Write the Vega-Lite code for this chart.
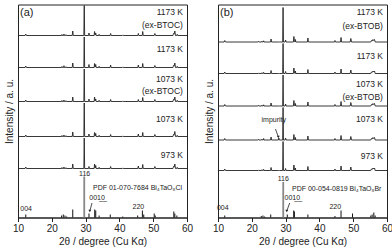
{
"$schema":"https://vega.github.io/schema/vega-lite/v6.json",
"padding":{"left":3,"top":2.5,"right":0,"bottom":0},
"spacing":31,
"bounds":"flush",
"config":{
 "view":{"stroke":"#222","strokeWidth":1},
 "font":"Liberation Sans",
 "axis":{"grid":false,"titleFontWeight":"normal","titleColor":"#222","labelColor":"#222","domainColor":"#222","tickColor":"#222","titleFontSize":10,"labelFontSize":10,"titleFont":"Liberation Sans","labelFont":"Liberation Sans"},
 "axisX":{"tickSize":4,"labelPadding":2,"titlePadding":3,"labelFlush":false},
 "axisY":{"labels":false,"ticks":false,"domain":false,"titlePadding":4},
 "text":{"font":"Liberation Sans","color":"#222"}
},
"datasets":{
 "ra":[{"y":181},{"y":149},{"y":115},{"y":80},{"y":48}],
 "rb":[{"y":174.5},{"y":142.8},{"y":110.5},{"y":76.5},{"y":46.2}],
 "pa":[
  {"t":10,"a":182,"b":150,"c":116,"d":81,"e":49},
  {"t":12.1,"a":182,"b":150,"c":116,"d":81,"e":49},
  {"t":12.3,"a":183.5,"b":151.5,"c":117.5,"d":82.5,"e":50.5},
  {"t":12.5,"a":182,"b":150,"c":116,"d":81,"e":49},
  {"t":22.88,"a":182,"b":150,"c":116,"d":81,"e":49},
  {"t":23,"a":183,"b":151,"c":117,"d":82,"e":50},
  {"t":23.12,"a":182,"b":150,"c":116,"d":81,"e":49},
  {"t":23.48,"a":182,"b":150,"c":116,"d":81,"e":49},
  {"t":23.6,"a":183.5,"b":151.8,"c":117.5,"d":82.5,"e":50.5},
  {"t":23.72,"a":182,"b":150,"c":116,"d":81,"e":49},
  {"t":24.08,"a":182,"b":150,"c":116,"d":81,"e":49},
  {"t":24.2,"a":182.8,"b":150.8,"c":116.8,"d":81.8,"e":49.8},
  {"t":24.32,"a":182,"b":150,"c":116,"d":81,"e":49},
  {"t":26.05,"a":182,"b":150,"c":116,"d":81,"e":49},
  {"t":26.2,"a":186.5,"b":154.5,"c":120.5,"d":85.5,"e":53.5},
  {"t":26.35,"a":182,"b":150,"c":116,"d":81,"e":49},
  {"t":29.48,"a":182,"b":150,"c":116,"d":81,"e":49},
  {"t":29.6,"a":212,"b":180.5,"c":148.5,"d":114.5,"e":79.5},
  {"t":29.72,"a":182,"b":150,"c":116,"d":81,"e":49},
  {"t":30.88,"a":182,"b":150,"c":116,"d":81,"e":49},
  {"t":31,"a":184.5,"b":153,"c":118.5,"d":83.5,"e":51},
  {"t":31.12,"a":182,"b":150,"c":116,"d":81,"e":49},
  {"t":32.53,"a":182,"b":150,"c":116,"d":81,"e":49},
  {"t":32.65,"a":186,"b":154,"c":120.5,"d":85,"e":53.5},
  {"t":32.82,"a":182.5,"b":150.5,"c":116.5,"d":81.5,"e":49.5},
  {"t":33,"a":184.5,"b":153,"c":118.5,"d":84,"e":52},
  {"t":33.12,"a":182,"b":150,"c":116,"d":81,"e":49},
  {"t":33.88,"a":182,"b":150,"c":116,"d":81,"e":49},
  {"t":34,"a":183.2,"b":151.2,"c":117.2,"d":82.2,"e":50.2},
  {"t":34.12,"a":182,"b":150,"c":116,"d":81,"e":49},
  {"t":37.25,"a":182,"b":150,"c":116,"d":81,"e":49},
  {"t":37.4,"a":184,"b":152.5,"c":118,"d":83,"e":51},
  {"t":37.55,"a":182,"b":150,"c":116,"d":81,"e":49},
  {"t":40.85,"a":182,"b":150,"c":116,"d":81,"e":49},
  {"t":41,"a":182.6,"b":150.6,"c":116.6,"d":81.6,"e":49.6},
  {"t":41.15,"a":182,"b":150,"c":116,"d":81,"e":49},
  {"t":45.45,"a":182,"b":150,"c":116,"d":81,"e":49},
  {"t":45.6,"a":184,"b":152.5,"c":118,"d":83.5,"e":51.5},
  {"t":45.75,"a":182,"b":150,"c":116,"d":81,"e":49},
  {"t":46.75,"a":182,"b":150,"c":116,"d":81,"e":49},
  {"t":46.9,"a":186,"b":154,"c":120,"d":85,"e":53},
  {"t":47.05,"a":182,"b":150,"c":116,"d":81,"e":49},
  {"t":50.3,"a":182,"b":150,"c":116,"d":81,"e":49},
  {"t":50.5,"a":184,"b":152,"c":118,"d":83,"e":51},
  {"t":50.7,"a":182,"b":150,"c":116,"d":81,"e":49},
  {"t":55.85,"a":182,"b":150,"c":116,"d":81,"e":49},
  {"t":56,"a":184,"b":152,"c":118,"d":83,"e":51},
  {"t":56.2,"a":183.5,"b":151.5,"c":117.5,"d":82.5,"e":50.5},
  {"t":56.4,"a":186.5,"b":154.5,"c":120.5,"d":86,"e":53.5},
  {"t":56.6,"a":182,"b":150,"c":116,"d":81,"e":49},
  {"t":56.95,"a":182,"b":150,"c":116,"d":81,"e":49},
  {"t":57.1,"a":183.2,"b":151.2,"c":117.2,"d":82.2,"e":50.2},
  {"t":57.25,"a":182,"b":150,"c":116,"d":81,"e":49},
  {"t":60,"a":182,"b":150,"c":116,"d":81,"e":49}
 ],
 "pb":[
  {"t":10,"a":175.5,"b":144,"c":111.5,"d":77.5,"e":47},
  {"t":11.8,"a":175.5,"b":144,"c":111.5,"d":77.5,"e":47},
  {"t":12,"a":177,"b":145.5,"c":113,"d":79,"e":48.5},
  {"t":12.2,"a":175.5,"b":144,"c":111.5,"d":77.5,"e":47},
  {"t":21.88,"a":175.5,"b":144,"c":111.5,"d":77.5,"e":47},
  {"t":22,"a":176.1,"b":144.6,"c":112.1,"d":78.1,"e":47.6},
  {"t":22.12,"a":175.5,"b":144,"c":111.5,"d":77.5,"e":47},
  {"t":22.88,"a":175.5,"b":144,"c":111.5,"d":77.5,"e":47},
  {"t":23,"a":176.3,"b":144.8,"c":112.3,"d":78.3,"e":47.8},
  {"t":23.12,"a":175.5,"b":144,"c":111.5,"d":77.5,"e":47},
  {"t":23.38,"a":175.5,"b":144,"c":111.5,"d":77.5,"e":47},
  {"t":23.5,"a":176.7,"b":145.2,"c":112.7,"d":79,"e":48.2},
  {"t":23.62,"a":175.5,"b":144,"c":111.5,"d":77.5,"e":47},
  {"t":25.55,"a":175.5,"b":144,"c":111.5,"d":77.5,"e":47},
  {"t":25.7,"a":178.5,"b":147,"c":114.5,"d":80.5,"e":50},
  {"t":25.85,"a":175.5,"b":144,"c":111.5,"d":77.5,"e":47},
  {"t":27.85,"a":175.5,"b":144,"c":111.5,"d":77.5,"e":47},
  {"t":28,"a":175.5,"b":144,"c":111.5,"d":79.5,"e":47},
  {"t":28.15,"a":175.5,"b":144,"c":111.5,"d":77.5,"e":47},
  {"t":29.13,"a":175.5,"b":144,"c":111.5,"d":77.5,"e":47},
  {"t":29.25,"a":210,"b":174,"c":142.5,"d":110,"e":76},
  {"t":29.37,"a":175.5,"b":144,"c":111.5,"d":77.5,"e":47},
  {"t":29.85,"a":175.5,"b":144,"c":111.5,"d":77.5,"e":47},
  {"t":30,"a":177.5,"b":146,"c":113.5,"d":79.5,"e":49},
  {"t":30.15,"a":175.5,"b":144,"c":111.5,"d":77.5,"e":47},
  {"t":32.3,"a":175.5,"b":144,"c":111.5,"d":77.5,"e":47},
  {"t":32.45,"a":181,"b":149.5,"c":117,"d":83,"e":52.5},
  {"t":32.6,"a":177,"b":145.5,"c":113,"d":79,"e":48.5},
  {"t":32.78,"a":175.5,"b":144,"c":111.5,"d":77.5,"e":47},
  {"t":32.9,"a":178,"b":146.5,"c":114,"d":80,"e":49.5},
  {"t":33.02,"a":175.5,"b":144,"c":111.5,"d":77.5,"e":47},
  {"t":36.45,"a":175.5,"b":144,"c":111.5,"d":77.5,"e":47},
  {"t":36.6,"a":179.5,"b":148,"c":115.5,"d":81.5,"e":51},
  {"t":36.75,"a":175.5,"b":144,"c":111.5,"d":77.5,"e":47},
  {"t":44.45,"a":175.5,"b":144,"c":111.5,"d":77.5,"e":47},
  {"t":44.6,"a":177,"b":145.5,"c":113,"d":79,"e":48.5},
  {"t":44.75,"a":175.5,"b":144,"c":111.5,"d":77.5,"e":47},
  {"t":46.25,"a":175.5,"b":144,"c":111.5,"d":77.5,"e":47},
  {"t":46.4,"a":180,"b":148.5,"c":116,"d":82,"e":51.5},
  {"t":46.55,"a":175.5,"b":144,"c":111.5,"d":77.5,"e":47},
  {"t":49.1,"a":175.5,"b":144,"c":111.5,"d":77.5,"e":47},
  {"t":49.3,"a":179,"b":147.5,"c":115,"d":81,"e":50.5},
  {"t":49.5,"a":175.5,"b":144,"c":111.5,"d":77.5,"e":47},
  {"t":55.2,"a":175.5,"b":144,"c":111.5,"d":77.5,"e":47},
  {"t":55.4,"a":177,"b":145.5,"c":113,"d":79,"e":48.5},
  {"t":55.6,"a":176.5,"b":145,"c":112.5,"d":78.5,"e":48},
  {"t":55.85,"a":178,"b":146.5,"c":114,"d":80,"e":49.5},
  {"t":56.05,"a":177,"b":145.5,"c":113,"d":79,"e":48.5},
  {"t":56.3,"a":178,"b":146.5,"c":114,"d":80,"e":49.5},
  {"t":56.5,"a":175.5,"b":144,"c":111.5,"d":77.5,"e":47},
  {"t":60,"a":175.5,"b":144,"c":111.5,"d":77.5,"e":47}
 ],
 "sa":[{"t":12.3,"y":3},{"t":22.9,"y":2},{"t":23.4,"y":3},{"t":23.9,"y":2},{"t":24.4,"y":1},{"t":26.2,"y":8},{"t":31,"y":4},{"t":32.7,"y":8},{"t":33,"y":7},{"t":34,"y":2},{"t":37.3,"y":3},{"t":41,"y":1},{"t":45.4,"y":2},{"t":46.8,"y":7},{"t":47.2,"y":3},{"t":50.3,"y":4},{"t":50.6,"y":2},{"t":56.1,"y":6},{"t":56.4,"y":4},{"t":57,"y":2}],
 "sb":[{"t":12,"y":2},{"t":22.8,"y":1.5},{"t":23.3,"y":2},{"t":23.8,"y":1},{"t":25.6,"y":3},{"t":30.5,"y":3},{"t":32.4,"y":7},{"t":32.6,"y":6},{"t":36.6,"y":3},{"t":44.6,"y":1.5},{"t":46.4,"y":7},{"t":49.8,"y":4},{"t":55.2,"y":2},{"t":55.6,"y":3},{"t":56.1,"y":5},{"t":56.5,"y":2}],
 "ma":[{"t":29.6,"y":41}],
 "mb":[{"t":29.3,"y":35.5}],
 "la":[{"t":58.8,"y":205.5,"txt":"1173 K"},{"t":58.8,"y":192.5,"txt":"(ex-BTOC)"},{"t":58.8,"y":168.5,"txt":"1173 K"},{"t":58.8,"y":138.5,"txt":"1073 K"},{"t":58.8,"y":126.5,"txt":"(ex-BTOC)"},{"t":58.8,"y":98.5,"txt":"1073 K"},{"t":58.8,"y":62.5,"txt":"973 K"}],
 "lb":[{"t":58.8,"y":205.5,"txt":"1173 K"},{"t":58.8,"y":192,"txt":"(ex-BTOB)"},{"t":58.8,"y":162,"txt":"1173 K"},{"t":58.8,"y":133.8,"txt":"1073 K"},{"t":58.8,"y":120.5,"txt":"(ex-BTOB)"},{"t":58.8,"y":98.8,"txt":"1073 K"},{"t":58.8,"y":62,"txt":"973 K"}],
 "ha":[{"t":12.4,"y":8.8,"txt":"004"},{"t":29.7,"y":44,"txt":"116"},{"t":33.4,"y":19.5,"txt":"001\u03320\u0332"},{"t":45.6,"y":10.5,"txt":"220"}],
 "hb":[{"t":11.4,"y":9.8,"txt":"004"},{"t":29.3,"y":38.5,"txt":"116"},{"t":32,"y":19.5,"txt":"001\u03320\u0332"},{"t":44.7,"y":10.5,"txt":"220"},{"t":26.5,"y":97.5,"txt":"impurity"}],
 "pdfa":[{"t":32.2,"y":29.5,"txt":"PDF 01-070-7684 Bi\u2084TaO\u2088Cl"}],
 "pdfb":[{"t":31.9,"y":28.8,"txt":"PDF 00-054-0819 Bi\u2084TaO\u2088Br"}],
 "aa":[{"t":31.9,"y":14.5,"t2":31.25,"y2":6.5}],
 "ab":[{"t":31.2,"y":14.5,"t2":30.35,"y2":6.5},{"t":27.0,"y":88.5,"t2":27.85,"y2":80.5}],
 "ta":[{"t":10.6,"y":204.5,"txt":"(a)"}],
 "tb":[{"t":10.6,"y":204.5,"txt":"(b)"}]
},
"hconcat":[
 {
  "width":169,"height":213,
  "encoding":{
   "x":{"field":"t","type":"quantitative","scale":{"domain":[10,60],"nice":false},"title":"2\u03b8 / degree (Cu K\u03b1)","axis":{"values":[10,20,30,40,50,60]}},
   "y":{"field":"y","type":"quantitative","scale":{"domain":[0,213],"nice":false,"zero":false},"title":"Intensity / a. u."}
  },
  "layer":[
   {"data":{"name":"ra"},"mark":{"type":"rule","color":"#333","strokeWidth":0.8},"encoding":{"x":{"datum":10},"x2":{"datum":60}}},
   {"data":{"name":"pa"},"transform":[{"fold":["a","b","c","d","e"],"as":["s","y"]}],"mark":{"type":"line","color":"#222","strokeWidth":0.9},"encoding":{"detail":{"field":"s"}}},
   {"data":{"name":"sa"},"mark":{"type":"rule","color":"#111","strokeWidth":1},"encoding":{"y2":{"datum":0}}},
   {"data":{"name":"ma"},"mark":{"type":"rule","color":"#888","strokeWidth":1.8},"encoding":{"y2":{"datum":0}}},
   {"data":{"name":"la"},"mark":{"type":"text","align":"right","baseline":"middle","fontSize":8.5,"color":"#222"},"encoding":{"text":{"field":"txt"}}},
   {"data":{"name":"ha"},"mark":{"type":"text","align":"center","baseline":"middle","fontSize":7,"color":"#222"},"encoding":{"text":{"field":"txt"}}},
   {"data":{"name":"pdfa"},"mark":{"type":"text","align":"left","baseline":"middle","fontSize":7,"color":"#222"},"encoding":{"text":{"field":"txt"}}},
   {"data":{"name":"aa"},"mark":{"type":"rule","color":"#222","strokeWidth":0.8},"encoding":{"x2":{"field":"t2"},"y2":{"field":"y2"}}},
   {"data":{"name":"aa"},"mark":{"type":"point","shape":"triangle-down","filled":true,"color":"#222","size":8,"opacity":1},"encoding":{"x":{"field":"t2","type":"quantitative","title":"2\u03b8 / degree (Cu K\u03b1)"},"y":{"field":"y2","type":"quantitative","title":"Intensity / a. u."}}},
   {"data":{"name":"ta"},"mark":{"type":"text","align":"left","baseline":"middle","fontSize":11,"color":"#222"},"encoding":{"text":{"field":"txt"}}}
  ]
 },
 {
  "width":169,"height":213,
  "encoding":{
   "x":{"field":"t","type":"quantitative","scale":{"domain":[10,60],"nice":false},"title":"2\u03b8 / degree (Cu K\u03b1)","axis":{"values":[10,20,30,40,50,60]}},
   "y":{"field":"y","type":"quantitative","scale":{"domain":[0,213],"nice":false,"zero":false},"title":"Intensity / a. u."}
  },
  "layer":[
   {"data":{"name":"rb"},"mark":{"type":"rule","color":"#333","strokeWidth":0.8},"encoding":{"x":{"datum":10},"x2":{"datum":60}}},
   {"data":{"name":"pb"},"transform":[{"fold":["a","b","c","d","e"],"as":["s","y"]}],"mark":{"type":"line","color":"#222","strokeWidth":0.9},"encoding":{"detail":{"field":"s"}}},
   {"data":{"name":"sb"},"mark":{"type":"rule","color":"#111","strokeWidth":1},"encoding":{"y2":{"datum":0}}},
   {"data":{"name":"mb"},"mark":{"type":"rule","color":"#888","strokeWidth":1.8},"encoding":{"y2":{"datum":0}}},
   {"data":{"name":"lb"},"mark":{"type":"text","align":"right","baseline":"middle","fontSize":8.5,"color":"#222"},"encoding":{"text":{"field":"txt"}}},
   {"data":{"name":"hb"},"mark":{"type":"text","align":"center","baseline":"middle","fontSize":7,"color":"#222"},"encoding":{"text":{"field":"txt"}}},
   {"data":{"name":"pdfb"},"mark":{"type":"text","align":"left","baseline":"middle","fontSize":7,"color":"#222"},"encoding":{"text":{"field":"txt"}}},
   {"data":{"name":"ab"},"mark":{"type":"rule","color":"#222","strokeWidth":0.8},"encoding":{"x2":{"field":"t2"},"y2":{"field":"y2"}}},
   {"data":{"name":"ab"},"mark":{"type":"point","shape":"triangle-down","filled":true,"color":"#222","size":8,"opacity":1},"encoding":{"x":{"field":"t2","type":"quantitative","title":"2\u03b8 / degree (Cu K\u03b1)"},"y":{"field":"y2","type":"quantitative","title":"Intensity / a. u."}}},
   {"data":{"name":"tb"},"mark":{"type":"text","align":"left","baseline":"middle","fontSize":11,"color":"#222"},"encoding":{"text":{"field":"txt"}}}
  ]
 }
]
}
